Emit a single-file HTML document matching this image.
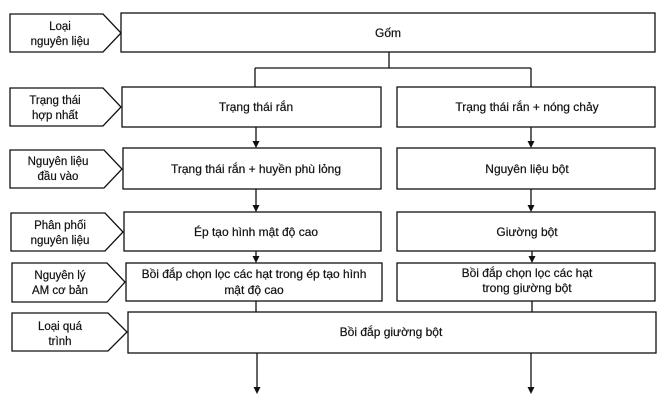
<!DOCTYPE html>
<html><head><meta charset="utf-8"><style>
html,body{margin:0;padding:0;background:#fff;}
svg{display:block;}
text{font-family:"Liberation Sans",sans-serif;font-size:12px;fill:#111;text-anchor:middle;stroke:#111;stroke-width:0.2;}
.l{font-size:11.5px;}
</style></head><body>
<svg width="665" height="405" viewBox="0 0 665 405" xmlns="http://www.w3.org/2000/svg">
<g fill="none" stroke="#111" stroke-width="1.3">
<path d="M10,14 H103 L121,33 L103,52 H10 Z"/>
<path d="M10,88 H103 L121,107 L103,126 H10 Z"/>
<path d="M10,150 H104 L122,169 L104,188 H10 Z"/>
<path d="M11,213 H105 L123,232 L105,251 H11 Z"/>
<path d="M12,263 H107 L125,282 L107,302 H12 Z"/>
<path d="M12,313 H108 L127,332 L108,351 H12 Z"/>
<rect x="121" y="13" width="534" height="39"/>
<rect x="122" y="87" width="259" height="40"/>
<rect x="397" y="87" width="258" height="40"/>
<rect x="123" y="148" width="258" height="41"/>
<rect x="397" y="148" width="258" height="41"/>
<rect x="124" y="212" width="257" height="39"/>
<rect x="397" y="212" width="258" height="39"/>
<rect x="126" y="263" width="256" height="38"/>
<rect x="397" y="263" width="258" height="38"/>
<rect x="128" y="312" width="528" height="41"/>
<path d="M389,52 V68 M255,68 H531 M255,68 V87 M531,68 V87"/>
<path d="M256,127 V142 M531,127 V142 M256,189 V206 M531,189 V206 M256,251 V257 M532,251 V257 M256,301 V312 M532,301 V312 M257,353 V388 M531,353 V388"/>
</g>
<g fill="#111">
<path d="M252.5,141 L256,148 L259.5,141 Z"/>
<path d="M527.5,141 L531,148 L534.5,141 Z"/>
<path d="M252.5,205 L256,212 L259.5,205 Z"/>
<path d="M527.5,205 L531,212 L534.5,205 Z"/>
<path d="M252.5,256 L256,263 L259.5,256 Z"/>
<path d="M528.5,256 L532,263 L535.5,256 Z"/>
<path d="M253.5,387 L257,394 L260.5,387 Z"/>
<path d="M527.5,387 L531,394 L534.5,387 Z"/>
</g>
<text class="l" x="60" y="30">Loại</text><text class="l" x="60" y="45">nguyên liệu</text>
<text class="l" x="55" y="104">Trạng thái</text><text class="l" x="55" y="119">hợp nhất</text>
<text class="l" x="58" y="165">Nguyên liệu</text><text class="l" x="58" y="180">đầu vào</text>
<text class="l" x="60" y="229">Phân phối</text><text class="l" x="60" y="244">nguyên liệu</text>
<text class="l" x="60" y="279">Nguyên lý</text><text class="l" x="60" y="294">AM cơ bản</text>
<text class="l" x="60" y="330">Loại quá</text><text class="l" x="60" y="345">trình</text>
<text x="388" y="37">Gốm</text>
<text x="256" y="111">Trạng thái rắn</text>
<text x="527" y="111">Trạng thái rắn + nóng chảy</text>
<text x="256" y="173">Trạng thái rắn + huyền phù lỏng</text>
<text x="527" y="173">Nguyên liệu bột</text>
<text x="256" y="236">Ép tạo hình mật độ cao</text>
<text x="527" y="236">Giường bột</text>
<text x="254" y="278">Bồi đắp chọn lọc các hạt trong ép tạo hình</text>
<text x="254" y="294">mật độ cao</text>
<text x="527" y="277">Bồi đắp chọn lọc các hạt</text>
<text x="527" y="292">trong giường bột</text>
<text x="391" y="336">Bồi đắp giường bột</text>
</svg>
</body></html>
